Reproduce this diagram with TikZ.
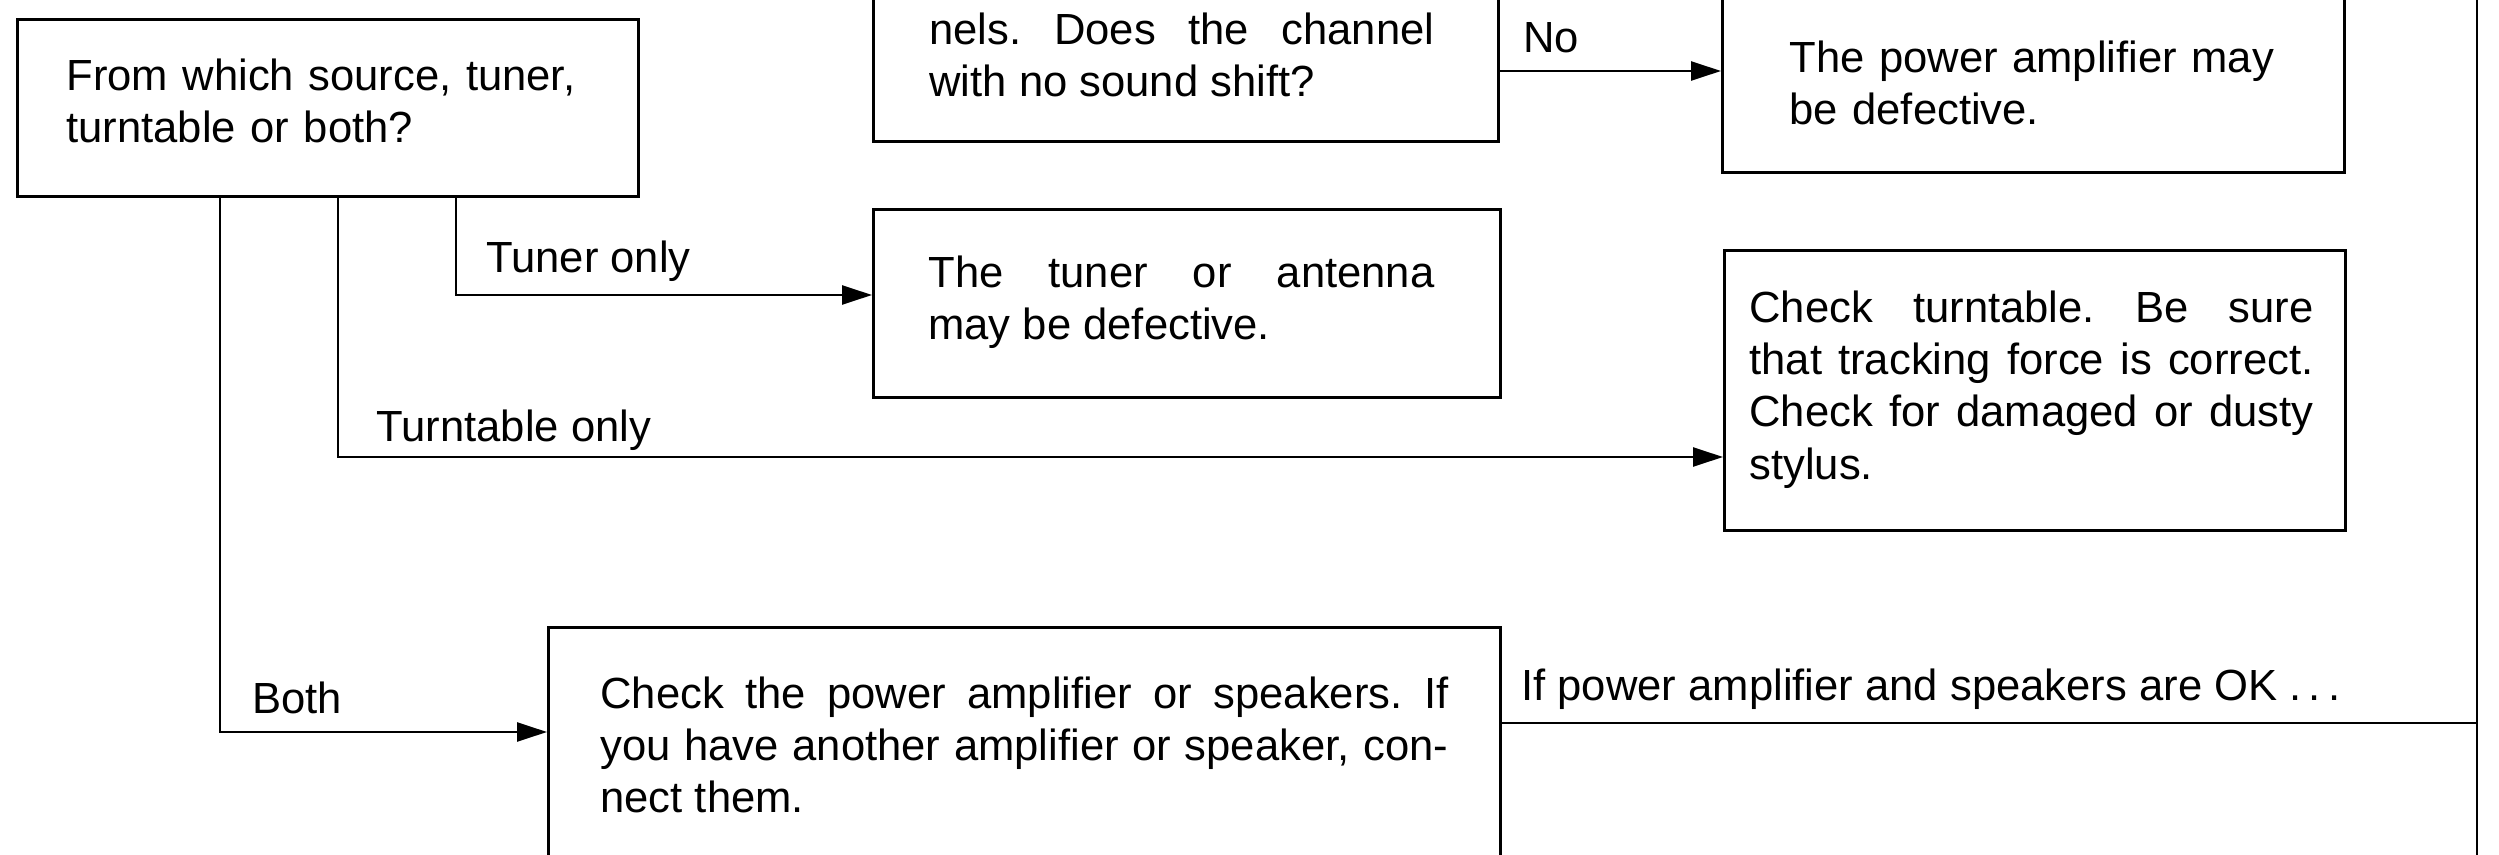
\documentclass[tikz,border=0pt]{standalone}
\usepackage{fontspec}
\setmainfont{Liberation Sans}
\usetikzlibrary{arrows.meta}
\begin{document}
\frenchspacing
\begin{tikzpicture}[x=0.5pt,y=-0.5pt,
  box/.style={draw,line width=1.5pt,rectangle,inner sep=0pt},
  txt/.style={anchor=base west,inner sep=0pt,font=\fontsize{21.8}{26}\selectfont},
  lbl/.style={anchor=base west,inner sep=0pt,font=\fontsize{21.8}{26}\selectfont},
  conn/.style={line width=1.2pt},
  arr/.style={conn,-{Triangle[length=15pt,width=9.5pt]}}
]
\useasboundingbox (0,0) rectangle (2499,855);
\clip (0,0) rectangle (2499,855);
% boxes
\node[box,minimum width=310.5pt,minimum height=88.5pt,anchor=north west] (A) at (16,18) {};
\node[box,minimum width=312.5pt,minimum height=121.5pt,anchor=south west] (B) at (872,143) {};
\node[box,minimum width=311pt,minimum height=137pt,anchor=south west] (C) at (1721,174) {};
\node[box,minimum width=313.5pt,minimum height=94pt,anchor=north west] (D) at (872,208) {};
\node[box,minimum width=310.5pt,minimum height=140pt,anchor=north west] (E) at (1723,249) {};
\node[box,minimum width=476pt,minimum height=187pt,anchor=north west] (F) at (547,626) {};
% texts
\node[txt,text width=295pt,align=left] (tA) at (66,91) {From which source, tuner,\\turntable or both?};
\node[txt,text width=252.5pt,align=justify] (tB) at (929,45) {nels. Does the channel\linebreak with no sound shift?};
\node[txt,text width=270pt,align=left] (tC) at (1789,73) {The power amplifier may\\be defective.};
\node[txt,text width=253pt,align=justify] (tD) at (928,288) {The tuner or antenna\linebreak may be defective.};
\node[txt,text width=282pt,align=justify] (tE) at (1749,323) {Check turntable. Be sure\linebreak that tracking force is correct.\linebreak Check for damaged or dusty\linebreak stylus.};
\node[txt,text width=424pt,align=justify] (tF) at (600,708) {Check the power amplifier or speakers. If\linebreak you have another amplifier or speaker, con-\linebreak nect them.};
% junction coordinates
\coordinate (jb) at (220,732);
\coordinate (jtt) at (338,457);
\coordinate (jt) at (456,295);
\coordinate (jn) at (1497,71);
\coordinate (jok) at (1499,723);
\coordinate (rt) at (2477,-10);
\coordinate (rb) at (2477,865);
% connectors
\draw[arr] (A.south -| jt) -- (jt) -- (jt -| D.west);
\draw[arr] (A.south -| jtt) -- (jtt) -- (jtt -| E.west);
\draw[arr] (A.south -| jb) -- (jb) -- (jb -| F.west);
\draw[arr] (jn -| B.east) -- (jn -| C.west);
\draw[conn] (rt) -- (rb);
\draw[conn] (jok -| F.east) -- (jok -| rt);
% labels
\node[lbl] (lNo) at (1523,53) {No};
\node[lbl] (lTu) at (486,273) {Tuner only};
\node[lbl] (lTt) at (376,442) {Turntable only};
\node[lbl] (lBo) at (252,713) {Both};
\node[lbl] (lOk) at (1521,700) {If power amplifier and speakers are OK~.\,.\,.};
\end{tikzpicture}
\end{document}
